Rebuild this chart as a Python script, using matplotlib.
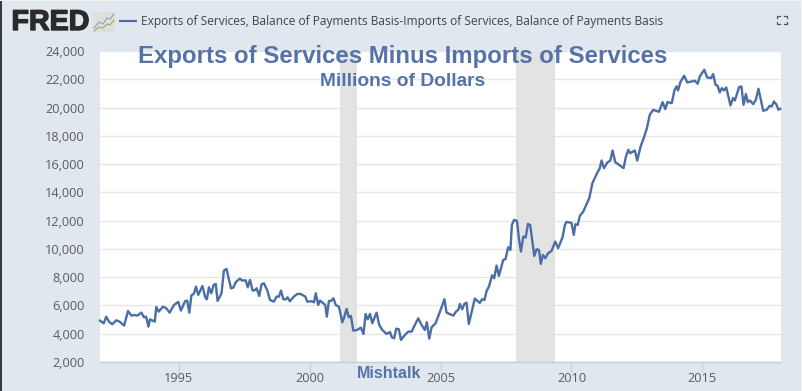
import matplotlib
matplotlib.use("Agg")
import matplotlib.pyplot as plt
import matplotlib.patheffects as pe
from matplotlib.patches import Rectangle, FancyBboxPatch
from matplotlib.lines import Line2D

years = [1992.0,1992.14,1992.24,1992.34,1992.47,1992.62,1992.75,1992.92,1993.07,1993.2,1993.3,1993.425,1993.58,1993.68,1993.76,1993.85,1993.91,
1994.09,1994.15,1994.24,1994.405,1994.53,1994.66,1994.825,1994.99,1995.09,1995.245,1995.33,1995.41,1995.49,1995.58,1995.665,1995.75,1995.91,
1996.02,1996.08,1996.16,1996.25,1996.34,1996.42,1996.49,1996.64,1996.73,1996.83,1997.0,1997.09,1997.19,1997.34,1997.43,1997.56,1997.64,1997.725,1997.83,1997.93,1997.98,
1998.08,1998.17,1998.26,1998.39,1998.49,1998.64,1998.74,1998.83,1998.91,1999.0,1999.1,1999.16,1999.25,1999.4,1999.53,1999.66,1999.84,1999.91,
2000.08,2000.17,2000.24,2000.33,2000.4,2000.52,2000.6,2000.66,2000.74,2000.82,2000.91,2001.0,2001.12,2001.25,2001.33,2001.415,2001.5,2001.58,2001.67,2001.82,2001.96,
2002.06,2002.14,2002.22,2002.31,2002.395,2002.56,2002.66,2002.78,2002.94,2003.07,2003.145,2003.23,2003.31,2003.41,2003.49,2003.64,2003.77,2003.9,
2004.0,2004.15,2004.28,2004.4,2004.48,2004.57,2004.66,2004.81,2004.98,2005.15,2005.23,2005.49,2005.61,2005.68,2005.74,2005.83,2005.91,2005.995,
2006.08,2006.19,2006.31,2006.5,2006.59,2006.68,2006.76,2006.85,2006.97,2007.05,2007.14,2007.23,2007.395,2007.48,2007.585,2007.67,2007.725,2007.81,2007.92,
2008.0,2008.07,2008.16,2008.25,2008.34,2008.425,2008.58,2008.67,2008.76,2008.83,2008.91,2009.0,2009.11,2009.24,2009.38,2009.49,2009.66,2009.75,2009.81,
2010.0,2010.09,2010.15,2010.24,2010.32,2010.45,2010.68,2010.8,2010.96,2011.08,2011.15,2011.24,2011.38,2011.48,2011.57,2011.67,2011.78,2011.99,
2012.08,2012.17,2012.24,2012.42,2012.51,2012.64,2012.78,2012.88,2012.99,2013.12,2013.34,2013.48,2013.58,2013.67,2013.83,2013.93,
2014.01,2014.07,2014.16,2014.3,2014.42,2014.71,2014.82,2014.9,2015.07,2015.18,2015.33,2015.41,2015.5,2015.58,2015.66,2015.74,2015.82,2015.91,
2016.07,2016.17,2016.24,2016.4,2016.49,2016.57,2016.66,2016.73,2016.81,2016.94,2017.04,2017.14,2017.32,2017.45,2017.57,2017.65,2017.73,2017.83,2017.9,2017.97]
balance = [4926,4737,5209,4855,4666,4949,4855,4572,5610,5280,5327,5280,5492,5162,5209,4500,5020,
4855,5893,5563,5917,5799,5492,6035,6247,5634,6295,6342,5492,6719,6814,7333,6743,7380,
6554,6436,7286,6861,7451,7522,6318,6861,8466,8584,7215,7262,7663,7899,7758,7781,7286,7805,7050,7097,7215,
6672,7498,7569,7050,6389,6271,6625,6625,7050,6436,6436,6578,6295,6625,6814,6814,6625,6271,
6295,6224,6861,6035,6342,6153,6035,5209,6319,6319,6508,6036,5918,4809,5210,5753,5163,5257,4219,4266,4431,
3983,5399,5021,5399,4738,5493,4620,4266,3983,4124,3747,3676,4360,4313,3558,3912,4148,4148,
4549,5092,4620,4266,4809,3652,4455,4738,5564,6437,5493,5281,5611,5682,6107,5729,6107,6201,
4691,5564,6484,6178,6437,6390,7027,7334,8136,7924,8821,8089,9222,9269,10119,9930,11700,12054,11983,
10638,9812,10874,10803,11771,11676,9505,9977,9930,8939,9576,9340,9694,9859,10520,10048,10827,11700,11912,
11842,10992,11747,11700,12337,12644,13588,14650,15287,15712,16255,15712,16137,16231,16963,16137,15995,15712,
16538,17010,16774,16963,16255,17246,17954,18544,19488,19842,19700,20385,19889,20385,20314,21211,
21494,21211,21801,22249,21777,21895,21683,22202,22674,22131,22084,22367,21612,21541,21069,21376,21211,21423,
20149,20668,20503,21447,21494,20196,20951,20385,20503,20243,20550,21329,19771,19842,20125,20078,20432,20196,19842,19913]
recession_start = [2001.15, 2007.9]
recession_end = [2001.82, 2009.39]
y_ticks = list(range(2000, 24001, 2000))
x_ticks = [1995, 2000, 2005, 2010, 2015]

W, H = 802, 391
BG = "#e1e7ef"
BLUE = "#4a6ea5"
TITLE = "#5573a8"
plt.rcParams["font.family"] = ["Open Sans", "DejaVu Sans"]
fig = plt.figure(figsize=(W/100, H/100), dpi=100, facecolor=BG)
ax = fig.add_axes([100/W, 1-362/H, 681/W, 311/H], facecolor="white")
ax.set_xlim(1992.0, 2018.0)
ax.set_ylim(2000, 24000)
ax.set_yticks(y_ticks)
ax.set_yticklabels([f"{v:,}" for v in y_ticks], fontsize=9.2, color="#5c5c5c")
ax.set_xticks(x_ticks)
ax.set_xticklabels([str(v) for v in x_ticks], fontsize=9.2, color="#5c5c5c")
ax.grid(axis="y", color="#e6e6e6", lw=1, zorder=1)
ax.set_axisbelow(True)
for s in ["top", "right", "left"]:
    ax.spines[s].set_visible(False)
ax.spines["bottom"].set_color("#c0d0e0")
ax.spines["bottom"].set_linewidth(1)
ax.tick_params(axis="y", length=0, pad=11)
ax.tick_params(axis="x", length=7.5, width=0.8, color="#c0d0e0", pad=0)
for a, b in zip(recession_start, recession_end):
    ax.axvspan(a, b, color="#e3e3e3", lw=0, zorder=1.5)
ax.plot(years, balance, color=BLUE, lw=1.7, solid_joinstyle="round", zorder=3, clip_on=False)

def px(x, y):
    return x/W, 1-y/H

def ftext(x, y, s, **kw):
    fx, fy = px(x, y)
    kw.setdefault("va", "center")
    return fig.text(fx, fy, s, zorder=10, **kw)

# Frame strips
fig.add_artist(Rectangle((0, 0), 1.5/W, 1, transform=fig.transFigure, fc="#3a3a3a", ec="none"))
fig.add_artist(Rectangle((0, 1-1/H), 1, 1/H, transform=fig.transFigure, fc="#f2f2f2", ec="none"))
fig.add_artist(Rectangle((1-1/W, 0), 1/W, 1, transform=fig.transFigure, fc="#f5f5f5", ec="none"))

# FRED logo
logo = ftext(11.5, 22, "FRED", family="Liberation Sans", weight="bold", fontsize=20.6, color="#2a2a2a", ha="left")
logo.set_path_effects([pe.withStroke(linewidth=1.0, foreground="#2a2a2a")])
ix, iy = px(93, 32)
fig.add_artist(FancyBboxPatch((ix, iy), 22/W, 20/H, boxstyle="round,pad=0,rounding_size=0.002",
                              transform=fig.transFigure, fc="#dfe0de", ec="none"))
lx = [94, 99, 103, 107, 110, 114]
for ly, c in (([28, 22, 24, 18, 19, 14], "#8fa4c4"), ([31, 27, 28, 24, 25, 20], "#9db07a")):
    fig.add_artist(Line2D([v/W for v in lx], [1-v/H for v in ly], transform=fig.transFigure, color=c, lw=0.9))

# Legend
fig.add_artist(Line2D([120/W, 136/W], [1-21/H, 1-21/H], transform=fig.transFigure, color=BLUE, lw=1.5))
ftext(141, 21.5, "Exports of Services, Balance of Payments Basis-Imports of Services, Balance of Payments Basis",
      fontsize=8.65, color="#444444", ha="left")

# Expand icon
for cx, sx in ((776.5, 1), (786.5, -1)):
    for cy, sy in ((15.5, 1), (24, -1)):
        fig.add_artist(Line2D([(cx+sx*3)/W, cx/W, cx/W], [1-cy/H, 1-cy/H, 1-(cy+sy*2.5)/H],
                              transform=fig.transFigure, color="#555555", lw=0.9))

# Overlaid titles
sans = dict(family="Liberation Sans", weight="bold", color=TITLE, ha="center")
ftext(402.5, 57, "Exports of Services Minus Imports of Services", fontsize=17.27, **sans)
ftext(402.5, 82, "Millions of Dollars", fontsize=13.8, **sans)
ftext(389, 373, "Mishtalk", fontsize=11.5, **sans)

fig.savefig("out.png", dpi=100, facecolor=BG)
